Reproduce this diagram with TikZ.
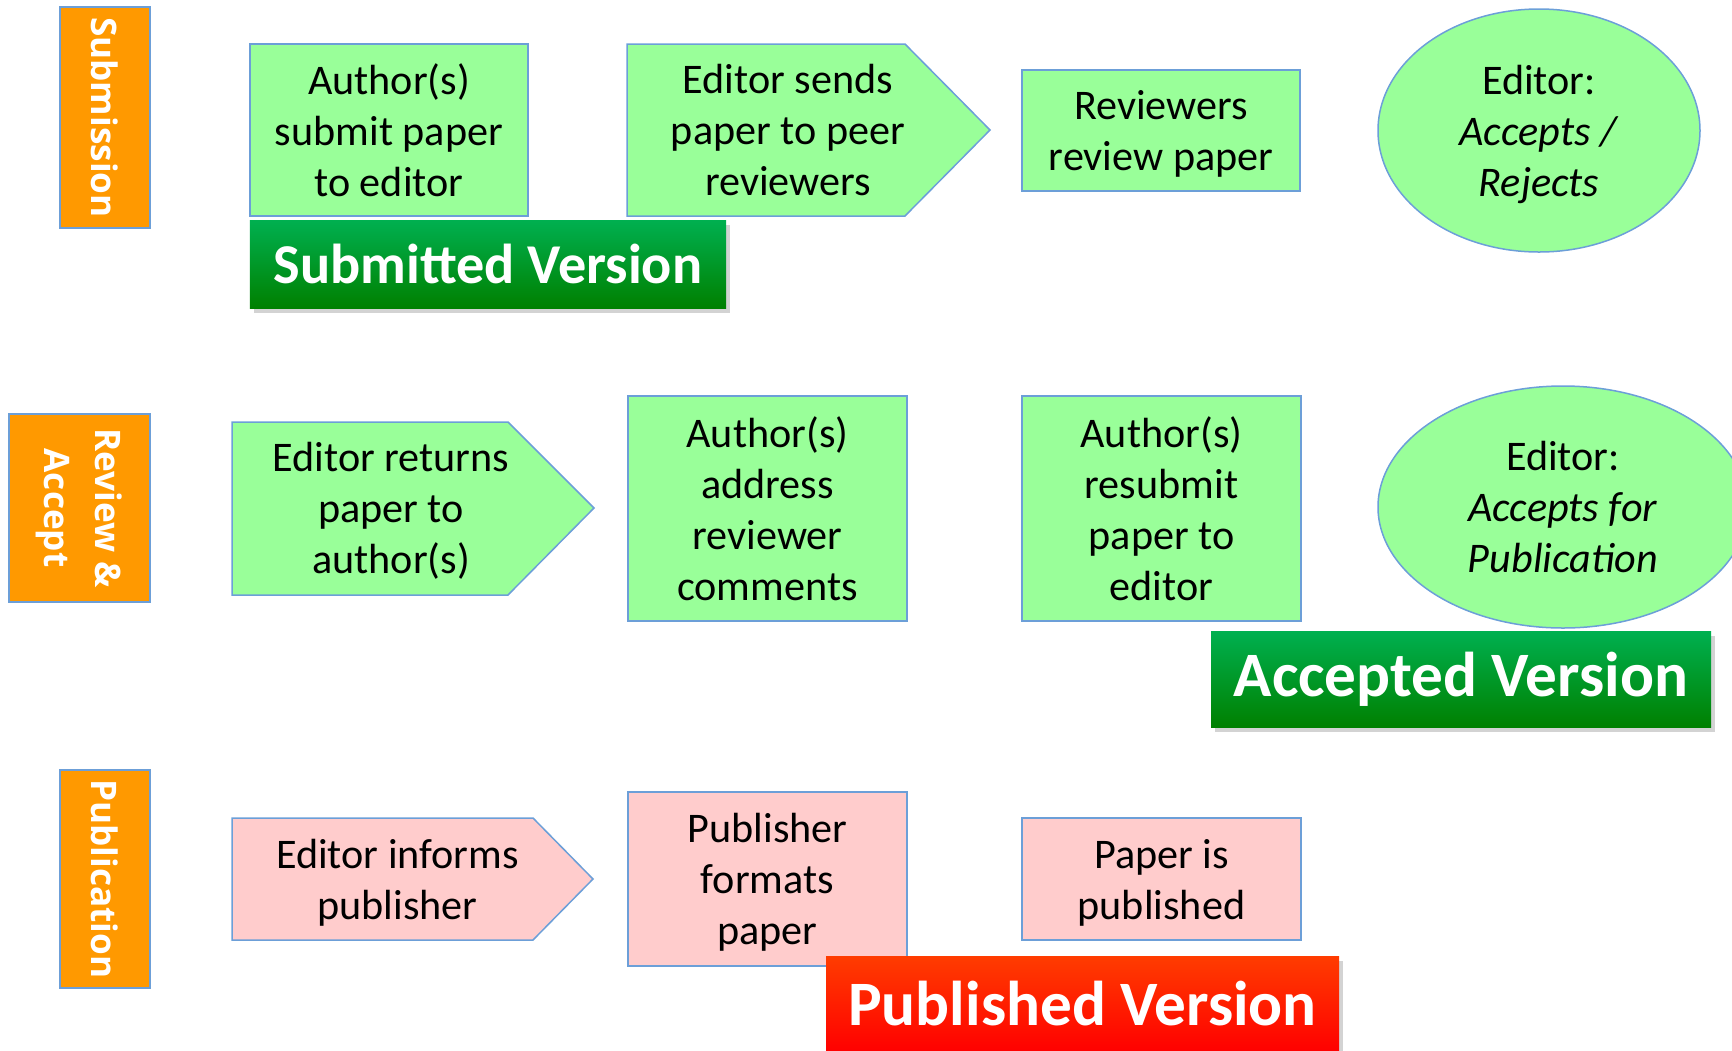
\documentclass[tikz,border=0pt]{standalone}
\usepackage{fontspec}
\setmainfont{Carlito}
\newfontfamily\tabfont{Open Sans}
\usetikzlibrary{shapes.geometric,shadows}
\definecolor{leaf}{HTML}{99FF99}
\definecolor{blush}{HTML}{FFCCCC}
\definecolor{amber}{HTML}{FF9900}
\definecolor{edge}{HTML}{6C9FD8}
\definecolor{gtop}{HTML}{00B050}
\definecolor{gbot}{HTML}{008000}
\definecolor{rtop}{HTML}{FF3C00}
\definecolor{rbot}{HTML}{FF0000}
\tikzset{
  stage/.style  ={draw=edge, line width=0.3mm, fill=leaf, align=center,
                  font=\fontsize{24}{29}\selectfont, inner sep=0pt, text depth=0pt},
  print/.style  ={stage, fill=blush},
  verdict/.style={stage, ellipse},
  arrowbox/.style={draw=edge, line width=0.3mm, fill=leaf, line join=miter},
  printarrow/.style={arrowbox, fill=blush},
  txt/.style    ={align=center, font=\fontsize{24}{29}\selectfont, inner sep=0pt, text depth=0pt},
  phase/.style  ={draw=edge, line width=0.3mm, fill=amber, text=white, align=center,
                  font=\tabfont\bfseries\fontsize{20}{29}\selectfont, rotate=-90, inner sep=0pt},
  banner/.style ={text=white, font=\bfseries\fontsize{36}{40}\selectfont, inner sep=0pt,
                  top color=gtop, bottom color=gbot, minimum height=19.2mm,
                  drop shadow={shadow xshift=0.8mm, shadow yshift=-0.9mm, opacity=0.35}},
  redbanner/.style={banner, top color=rtop, bottom color=rbot},
}

\begin{document}
\begin{tikzpicture}[x=0.2mm,y=-0.2mm]
  \useasboundingbox (0,0) rectangle (1732,1050);
  % phase tabs
  \node[phase, minimum width=44.2mm, minimum height=18mm]   (tabsub) at (105,117.5) {Submission};
  \node[phase, minimum width=37.6mm, minimum height=28.2mm] (tabrev) at (79.5,508)  {Review \&\\Accept};
  \node[phase, minimum width=43.6mm, minimum height=18mm]   (tabpub) at (105,879)   {Publication};
  % submission row
  \node[stage, minimum width=55.6mm, minimum height=34.4mm] (submit) at (389,130) {Author(s)\\submit paper\\to editor};
  \draw[arrowbox] (627,44) -- (905,44) -- (990,130) -- (905,216) -- (627,216) -- cycle;
  \node[txt] (sends) at (788,130) {Editor sends\\paper to peer\\reviewers};
  \node[stage, minimum width=55.6mm, minimum height=24.2mm] (review) at (1161,130.5) {Reviewers\\review paper};
  \node[verdict, minimum width=64.4mm, minimum height=48.6mm] (decide) at (1539,130.5)
        {Editor:\\\textit{Accepts /}\\\textit{Rejects}};
  % review and accept row
  \draw[arrowbox] (232,422) -- (508,422) -- (594,508) -- (508,595) -- (232,595) -- cycle;
  \node[txt] (returns) at (391,508) {Editor returns\\paper to\\author(s)};
  \node[stage, minimum width=55.8mm, minimum height=45mm] (address) at (767.5,508.5)
        {Author(s)\\address\\reviewer\\comments};
  \node[stage, minimum width=55.8mm, minimum height=45mm] (resubmit) at (1161.5,508.5)
        {Author(s)\\resubmit\\paper to\\editor};
  \node[verdict, minimum width=74mm, minimum height=48.4mm] (accept) at (1563,507)
        {Editor:\\\textit{Accepts for}\\\textit{Publication}};
  % publication row
  \draw[printarrow] (232,818) -- (533,818) -- (593,879) -- (533,940) -- (232,940) -- cycle;
  \node[txt] (informs) at (397.5,879) {Editor informs\\publisher};
  \node[print, minimum width=55.8mm, minimum height=34.8mm] (formats) at (767.5,879)
        {Publisher\\formats\\paper};
  \node[print, minimum width=55.8mm, minimum height=24.4mm] (out) at (1161.5,879)
        {Paper is\\published};
  % version banners
  \node[banner, minimum width=95.2mm, minimum height=17.6mm,
        font=\bfseries\fontsize{32}{36}\selectfont] (subver) at (488,264) {Submitted Version};
  \node[banner, minimum width=100mm] (accver) at (1461,679) {Accepted Version};
  \node[redbanner, minimum width=102.6mm] (pubver) at (1082.5,1004) {Published Version};
\end{tikzpicture}
\end{document}
